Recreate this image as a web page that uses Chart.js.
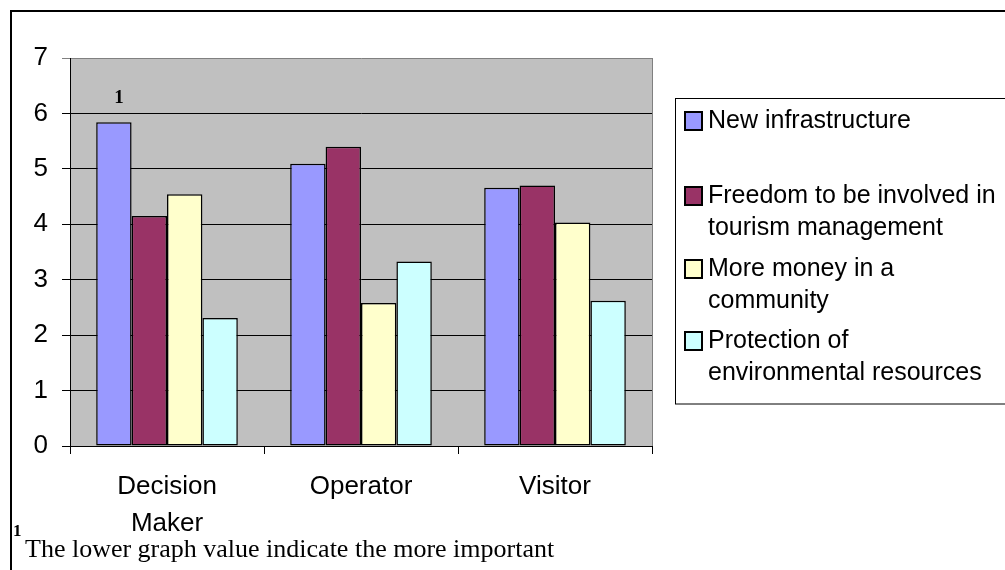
<!DOCTYPE html>
<html>
<head>
<meta charset="utf-8">
<script src="https://cdn.jsdelivr.net/npm/chart.js@4"></script>
<style>
  html, body { margin: 0; padding: 0; background: #fff; }
  #wrap { width: 1005px; height: 570px; }
</style>
</head>
<body>
<div id="wrap"><canvas id="chart" width="1005" height="570"></canvas></div>
<script>
const categories = [["Decision", "Maker"], "Operator", "Visitor"];
const seriesNames = [
  ["New infrastructure"],
  ["Freedom to be involved in", "tourism management"],
  ["More money in a", "community"],
  ["Protection of", "environmental resources"]
];
const seriesColors = ["#9999FF", "#993366", "#FFFFCC", "#CCFFFF"];
const newInfrastructure = [5.84, 5.09, 4.66];
const freedomInvolved = [4.15, 5.40, 4.70];
const moreMoney = [4.54, 2.58, 4.03];
const protectionResources = [2.31, 3.33, 2.62];
const yTicks = [0, 1, 2, 3, 4, 5, 6, 7];
const footnoteMark = "1";
const footnoteText = "The lower graph value indicate the more important";

const seriesValues = [newInfrastructure, freedomInvolved, moreMoney, protectionResources];

const sans = "'Liberation Sans', Arial, sans-serif";
const serif = "'Liberation Serif', 'Times New Roman', serif";

// gray plot area, outer frame, wrapped legend and footnote
const excelLook = {
  id: 'excelLook',
  beforeDraw(chart) {
    const { ctx, chartArea: a } = chart;
    ctx.save();
    ctx.fillStyle = '#fff';
    ctx.fillRect(0, 0, chart.width, chart.height);
    ctx.fillStyle = '#C0C0C0';
    ctx.fillRect(a.left, a.top, a.right - a.left, a.bottom - a.top);
    ctx.restore();
  },
  afterDraw(chart) {
    const { ctx, chartArea: a } = chart;
    ctx.save();
    // right edge of plot area
    ctx.strokeStyle = '#808080';
    ctx.lineWidth = 1;
    ctx.beginPath();
    ctx.moveTo(a.right + 0.5, a.top);
    ctx.lineTo(a.right + 0.5, a.bottom);
    ctx.stroke();

    // outer frame (top and left only, the rest runs off the page)
    ctx.strokeStyle = '#000';
    ctx.lineWidth = 2;
    ctx.beginPath();
    ctx.moveTo(11, 570);
    ctx.lineTo(11, 11);
    ctx.lineTo(1005, 11);
    ctx.stroke();

    // legend box
    ctx.lineWidth = 1;
    ctx.strokeStyle = '#000';
    ctx.strokeRect(675.5, 98.5, 340, 305.5);
    const itemY = [121, 196, 269, 341];
    ctx.font = '25px ' + sans;
    ctx.textBaseline = 'middle';
    ctx.textAlign = 'left';
    chart.data.datasets.forEach((ds, i) => {
      const y = itemY[i];
      ctx.fillStyle = ds.backgroundColor;
      ctx.fillRect(685, y - 9, 17, 18);
      ctx.strokeStyle = '#000';
      ctx.lineWidth = 2;
      ctx.strokeRect(685, y - 9, 17, 18);
      ctx.fillStyle = '#000';
      seriesNames[i].forEach((line, j) => {
        ctx.fillText(line, 708, y + j * 32);
      });
    });

    // footnote marker above the first bar
    const bar = chart.getDatasetMeta(0).data[0];
    const yScale = chart.scales.y;
    ctx.font = 'bold 19px ' + serif;
    ctx.textAlign = 'center';
    ctx.fillText(footnoteMark, bar.x + 5, yScale.getPixelForValue(6.28));

    // footnote
    ctx.textAlign = 'left';
    ctx.font = 'bold 17px ' + serif;
    ctx.fillText(footnoteMark, 13, 532);
    ctx.font = '26px ' + serif;
    ctx.textBaseline = 'alphabetic';
    ctx.fillText(footnoteText, 25, 557);
    ctx.restore();
  }
};

new Chart(document.getElementById('chart'), {
  type: 'bar',
  data: {
    labels: categories,
    datasets: seriesValues.map((vals, i) => ({
      label: seriesNames[i].join(' '),
      data: vals,
      backgroundColor: seriesColors[i],
      borderColor: '#000',
      borderWidth: 1.5,
      borderSkipped: false,
      barPercentage: 1,
      categoryPercentage: 0.73
    }))
  },
  options: {
    responsive: false,
    animation: false,
    devicePixelRatio: 1,
    layout: { padding: { left: 0, top: 58, right: 353, bottom: 14 } },
    plugins: {
      legend: { display: false },
      tooltip: { enabled: false }
    },
    scales: {
      x: {
        afterFit: s => { s.height = 110; },
        border: { color: '#000', width: 1 },
        grid: { offset: true, drawOnChartArea: false, drawTicks: true, tickLength: 8, color: '#000' },
        ticks: { color: '#000', font: { family: sans, size: 26, lineHeight: 1.42 }, padding: 14, maxRotation: 0, autoSkip: false }
      },
      y: {
        min: 0,
        max: 7,
        afterFit: s => { s.width = 70; },
        afterBuildTicks: s => { s.ticks = yTicks.map(v => ({ value: v })); },
        border: { color: '#000', width: 1 },
        grid: {
          color: c => (c.tick && c.tick.value === 7 ? '#808080' : '#000'),
          tickLength: 8,
          drawTicks: true
        },
        ticks: { color: '#000', font: { family: sans, size: 26 }, padding: 14 }
      }
    }
  },
  plugins: [excelLook]
});
</script>
</body>
</html>
